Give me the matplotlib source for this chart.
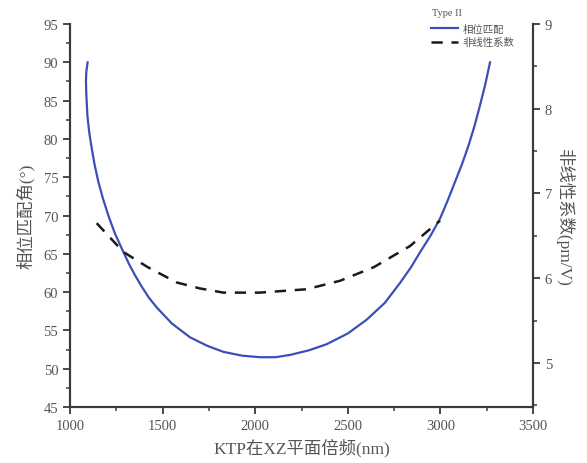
import matplotlib
matplotlib.use("Agg")
import matplotlib.pyplot as plt
from matplotlib.ticker import MultipleLocator

plt.rcParams['font.family'] = ['Liberation Serif', 'Noto Sans CJK SC', 'DejaVu Sans']

# Phase matching angle (left axis)
pm_x = [1095, 1088, 1086, 1088, 1094, 1104, 1117, 1133, 1153, 1178, 1207, 1240, 1279, 1320, 1351, 1385, 1425, 1468,
        1550, 1648, 1740, 1828, 1930, 2026, 2110, 2188, 2290, 2386, 2500, 2602, 2700, 2782, 2840, 2890, 2945,
        2998, 3040, 3079, 3115, 3150, 3183, 3214, 3242, 3268]
pm_y = [90.0, 88.8, 87.5, 85.8, 83.0, 80.8, 78.8, 76.6, 74.4, 72.2, 70.0, 67.8, 65.7, 63.6, 62.2, 60.8, 59.3, 58.0,
        55.9, 54.1, 53.0, 52.2, 51.7, 51.5, 51.5, 51.8, 52.4, 53.2, 54.6, 56.4, 58.6, 61.2, 63.2, 65.2, 67.3,
        69.6, 72.0, 74.4, 76.6, 79.0, 81.6, 84.4, 87.1, 90.0]

# Nonlinear coefficient (right axis)
nl_x = [1144, 1288, 1420, 1576, 1700, 1828, 2026, 2278, 2458, 2640, 2836, 2998]
nl_y = [6.65, 6.31, 6.13, 5.95, 5.88, 5.83, 5.83, 5.87, 5.97, 6.13, 6.38, 6.68]

fig = plt.figure(figsize=(5.87, 4.64), dpi=100)
ax = fig.add_axes([0.1193, 0.1207, 0.908 - 0.1193, 0.946 - 0.1207])
ax2 = ax.twinx()

gray = '#3a3a3a'
txt = '#555555'

l1, = ax.plot(pm_x, pm_y, color='#3b4fb8', lw=1.6)
l2, = ax2.plot(nl_x, nl_y, color='#1a1a1a', lw=1.8, ls=(0, (4.5, 3.5)))

ax.set_xlim(1000, 3500)
ax.set_ylim(45, 95)
ax2.set_ylim(4.48, 9.0)

ax.xaxis.set_major_locator(MultipleLocator(500))
ax.xaxis.set_minor_locator(MultipleLocator(250))
ax.yaxis.set_major_locator(MultipleLocator(5))
ax.yaxis.set_minor_locator(MultipleLocator(2.5))
ax2.yaxis.set_major_locator(MultipleLocator(1))
ax2.yaxis.set_minor_locator(MultipleLocator(0.5))

for a in (ax, ax2):
    a.spines['top'].set_visible(False)
    for s in ('left', 'right', 'bottom'):
        a.spines[s].set_color(gray)
        a.spines[s].set_linewidth(1.5)
    a.tick_params(which='major', direction='out', length=5, width=1.3, color=gray,
                  labelsize=10.5, labelcolor=txt)
    a.tick_params(which='minor', direction='out', length=3, width=1.1, color=gray)

ax.set_xlabel('KTP在XZ平面倍频(nm)', fontsize=12.5, color=txt, labelpad=4)
ax.set_ylabel('相位匹配角(°)', fontsize=12.5, color=txt, labelpad=6)
ax2.set_ylabel('非线性系数(pm/V)', fontsize=12.5, color=txt, rotation=270, labelpad=16)

leg = ax.legend([l1, l2], ['相位匹配', '非线性系数'],
                loc='upper left', bbox_to_anchor=(0.78, 1.001), frameon=False,
                fontsize=7.5, handlelength=2.6, labelspacing=0.35,
                borderaxespad=0.0, borderpad=0.0, handletextpad=0.4)
for t in leg.get_texts():
    t.set_color(txt)
fig.text(0.736, 0.970, 'Type II', fontsize=7.5, color=txt, ha='left', va='center')

fig.savefig('out.png', dpi=100)
